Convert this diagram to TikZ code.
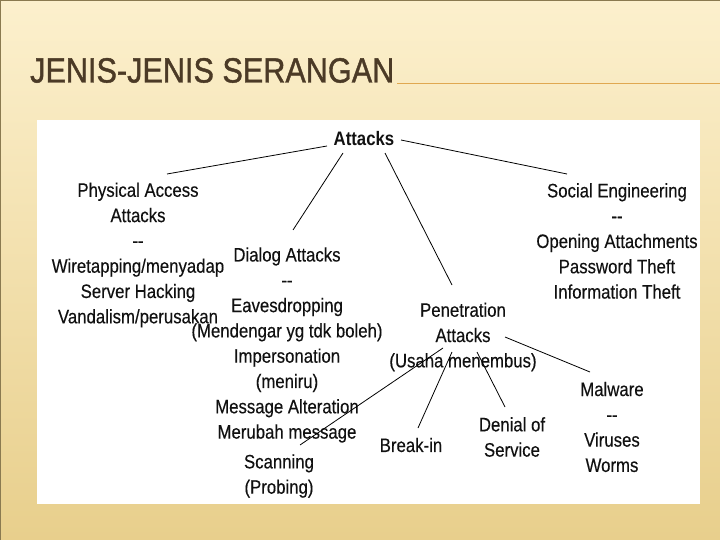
\documentclass[tikz,border=0pt]{standalone}
\usepackage{fontspec}
\setmainfont{Liberation Sans}
\newfontfamily\titlefont{Liberation Sans}[FakeBold=1.2]
\newfontfamily\bodyfont{Liberation Sans}[FakeBold=0.3]
\definecolor{bgtop}{HTML}{FCF0CD}
\definecolor{bgbot}{HTML}{E8CF8C}
\definecolor{titlec}{HTML}{4B3A26}
\definecolor{rulec}{HTML}{E0A850}
\definecolor{framec}{HTML}{8A7A50}
\definecolor{txt}{HTML}{111111}
\newcommand{\dd}{{-}{-}}
\begin{document}
\begin{tikzpicture}[x=1pt,y=-1pt,
  lbl/.style={align=center, inner sep=0pt, text=txt, xscale=0.86, transform shape,
    font=\bodyfont\fontsize{19.5}{25.3}\selectfont},
  conn/.style={draw=black, line width=0.8pt}]
\useasboundingbox (0,0) rectangle (720,540);
\shade[top color=bgtop, bottom color=bgbot] (0,0) rectangle (720,540);
\draw[framec, line width=1.2pt] (0.6,540) -- (0.6,0.6) -- (720,0.6);
% title
\node[anchor=base west, inner sep=0pt, text=titlec, xscale=0.875, transform shape,
  font=\titlefont\fontsize{35}{35}\selectfont] (title) at (30,82.5) {JENIS-JENIS SERANGAN};
\draw[rulec, line width=1pt] (397,83.5) -- (720,83.5);
% white panel
\fill[white] (37,120) rectangle (700,504);
% nodes
\node[lbl, font=\fontsize{19.5}{25.3}\selectfont\bfseries] (att) at (364,139) {Attacks};
\node[lbl] (phys) at (138,255) {Physical Access\\Attacks\\\dd\\Wiretapping/menyadap\\Server Hacking\\Vandalism/perusakan};
\node[lbl] (dial) at (287,345) {Dialog Attacks\\\dd\\Eavesdropping\\(Mendengar yg tdk boleh)\\Impersonation\\(meniru)\\Message Alteration\\Merubah message};
\node[lbl] (scan) at (279,476) {Scanning\\(Probing)};
\node[lbl] (pen) at (463,337) {Penetration\\Attacks\\(Usaha menembus)};
\node[lbl] (soc) at (617,241) {Social Engineering\\\dd\\Opening Attachments\\Password Theft\\Information Theft};
\node[lbl] (mal) at (612,427) {Malware\\\dd\\Viruses\\Worms};
\node[lbl] (dos) at (512,437) {Denial of\\Service};
\node[lbl] (brk) at (411,445) {Break-in};
% connector end points
\coordinate (a1) at (327,146);
\coordinate (p1) at (167,174);
\coordinate (a2) at (343,153);
\coordinate (d1) at (293,230);
\coordinate (a3) at (385,153);
\coordinate (e1) at (452,285);
\coordinate (a4) at (401,140);
\coordinate (s1) at (567,174);
\coordinate (b1) at (505,337);
\coordinate (m1) at (590,372);
\coordinate (b2) at (477,352);
\coordinate (o1) at (505,407);
\coordinate (b3) at (452,352);
\coordinate (k1) at (418,428);
\coordinate (b4) at (443,348);
\coordinate (c1) at (300,445);
\draw[conn] (a1) -- (p1);
\draw[conn] (a2) -- (d1);
\draw[conn] (a3) -- (e1);
\draw[conn] (a4) -- (s1);
\draw[conn] (b1) -- (m1);
\draw[conn] (b2) -- (o1);
\draw[conn] (b3) -- (k1);
\draw[conn] (b4) -- (c1);
\end{tikzpicture}
\end{document}
